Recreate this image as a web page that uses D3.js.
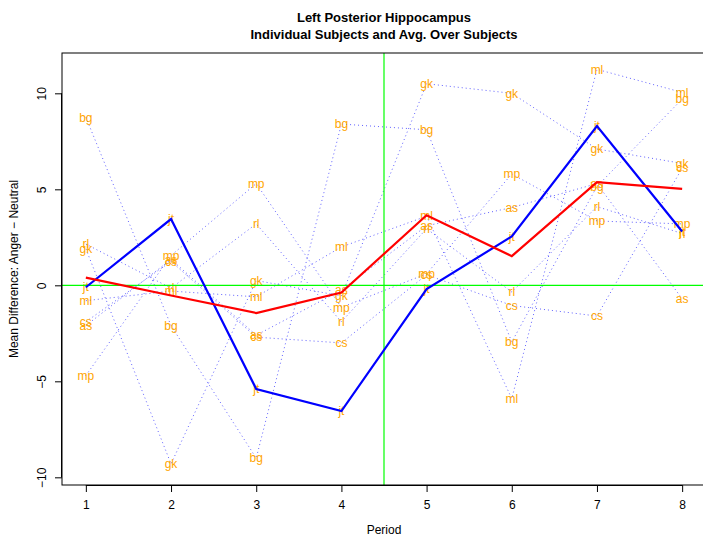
<!DOCTYPE html>
<html>
<head>
<meta charset="utf-8">
<script src="https://cdn.jsdelivr.net/npm/d3@7"></script>
<style>
  html, body { margin: 0; padding: 0; background: #fff; }
  svg { display: block; font-family: "Liberation Sans", Arial, Helvetica, sans-serif; }
</style>
</head>
<body>
<svg id="chart" width="703" height="537"></svg>
<script>
// Periods on the x axis
const periods = [1, 2, 3, 4, 5, 6, 7, 8];

// Subject codes
const subjects = ["as", "bg", "cs", "gk", "jt", "ml", "mp", "rl"];

// Mean difference (Anger - Neutral) per subject, one value per period
const asVals = [-2.1, 1.35, -2.6, -0.25, 3.1, 4.05, 5.3, -0.7];
const bgVals = [8.75, -2.1, -9.0, 8.4, 8.1, -2.95, 5.15, 9.7];
const csVals = [-1.9, 1.25, -2.7, -3.0, 0.55, -1.05, -1.6, 6.1];
const gkVals = [1.9, -9.3, 0.25, -0.55, 10.5, 10.0, 7.1, 6.35];
const jtVals = [-0.1, 3.45, -5.4, -6.55, -0.2, 2.55, 8.3, 2.8];
const mlVals = [-0.8, -0.3, -0.6, 2.0, 3.6, -5.9, 11.25, 10.05];
const mpVals = [-4.7, 1.55, 5.3, -1.15, 0.6, 5.8, 3.35, 3.2];
const rlVals = [2.15, -0.15, 3.2, -1.9, 2.95, -0.35, 4.1, 2.7];

const seriesValues = [asVals, bgVals, csVals, gkVals, jtVals, mlVals, mpVals, rlVals];

// Axis tick values
const xTicks = [1, 2, 3, 4, 5, 6, 7, 8];
const yTicks = [-10, -5, 0, 5, 10];

// Average over subjects for each period
const avgVals = periods.map((p, i) => d3.mean(seriesValues, s => s[i]));

const svg = d3.select("#chart");
const plotLeft = 62, plotRight = 706, plotTop = 53, plotBottom = 485;

const x = d3.scaleLinear().domain([0.72, 8.28]).range([plotLeft, plotRight]);
const y = d3.scaleLinear().domain([-10.4, 12.1]).range([plotBottom, plotTop]);

const line = d3.line().x((d, i) => x(periods[i])).y(d => y(d));

// Subject trajectories (dotted)
const g = svg.append("g");
seriesValues.forEach(vals => {
  g.append("path")
    .attr("d", line(vals))
    .attr("fill", "none")
    .attr("stroke", "#3b3bff")
    .attr("stroke-width", 1)
    .attr("stroke-dasharray", "1,3")
    .attr("opacity", 0.8);
});

// Subject labels at each point
seriesValues.forEach((vals, si) => {
  vals.forEach((v, i) => {
    g.append("text")
      .attr("x", x(periods[i]))
      .attr("y", y(v))
      .attr("dy", "0.35em")
      .attr("text-anchor", "middle")
      .attr("font-size", 12)
      .attr("fill", "#FFA500")
      .text(subjects[si]);
  });
});

// Reference lines
svg.append("line")
  .attr("x1", plotLeft).attr("x2", plotRight)
  .attr("y1", y(0)).attr("y2", y(0))
  .attr("stroke", "#00ff00").attr("stroke-width", 1.2);
svg.append("line")
  .attr("x1", x(4.5)).attr("x2", x(4.5))
  .attr("y1", plotTop).attr("y2", plotBottom)
  .attr("stroke", "#00ff00").attr("stroke-width", 1.2);

// Highlighted subject jt
svg.append("path")
  .attr("d", line(jtVals))
  .attr("fill", "none")
  .attr("stroke", "#0000ff")
  .attr("stroke-width", 2.2);

// Average over subjects
svg.append("path")
  .attr("d", line(avgVals))
  .attr("fill", "none")
  .attr("stroke", "#ff0000")
  .attr("stroke-width", 2.2);

// Plot frame
svg.append("rect")
  .attr("x", plotLeft).attr("y", plotTop)
  .attr("width", plotRight - plotLeft).attr("height", plotBottom - plotTop)
  .attr("fill", "none").attr("stroke", "#000").attr("stroke-width", 1);

// X axis
const xAxis = d3.axisBottom(x).tickValues(xTicks).tickSize(7).tickPadding(8).tickFormat(d3.format("d"));
const xg = svg.append("g").attr("transform", `translate(0,${plotBottom})`).call(xAxis);
xg.select(".domain").attr("d", `M${x(1)},0.5H${x(8)}`);
xg.selectAll("text").attr("font-size", 12).attr("font-family", "Liberation Sans, Arial, sans-serif").attr("fill", "#000");

// Y axis with rotated labels
const yAxis = d3.axisLeft(y).tickValues(yTicks).tickSize(7).tickFormat(d => d < 0 ? "\u2212" + Math.abs(d) : String(d));
const yg = svg.append("g").attr("transform", `translate(${plotLeft},0)`).call(yAxis);
yg.select(".domain").attr("d", `M-0.5,${y(-10)}V${y(10)}`);
yg.selectAll(".tick text")
  .attr("font-size", 12)
  .attr("font-family", "Liberation Sans, Arial, sans-serif")
  .attr("fill", "#000")
  .attr("x", null).attr("dy", null)
  .attr("text-anchor", "middle")
  .attr("transform", "translate(-16,0) rotate(-90)");

// Axis titles
svg.append("text")
  .attr("x", (plotLeft + plotRight) / 2).attr("y", 534)
  .attr("text-anchor", "middle").attr("font-size", 12)
  .text("Period");
svg.append("text")
  .attr("transform", `translate(18,${(plotTop + plotBottom) / 2}) rotate(-90)`)
  .attr("text-anchor", "middle").attr("font-size", 12)
  .text("Mean Difference: Anger \u2212 Neutral");

// Title
svg.append("text")
  .attr("x", (plotLeft + plotRight) / 2).attr("y", 22)
  .attr("text-anchor", "middle").attr("font-size", 13).attr("font-weight", "bold")
  .text("Left Posterior Hippocampus");
svg.append("text")
  .attr("x", (plotLeft + plotRight) / 2).attr("y", 39)
  .attr("text-anchor", "middle").attr("font-size", 13).attr("font-weight", "bold")
  .text("Individual Subjects and Avg. Over Subjects");
</script>
</body>
</html>
